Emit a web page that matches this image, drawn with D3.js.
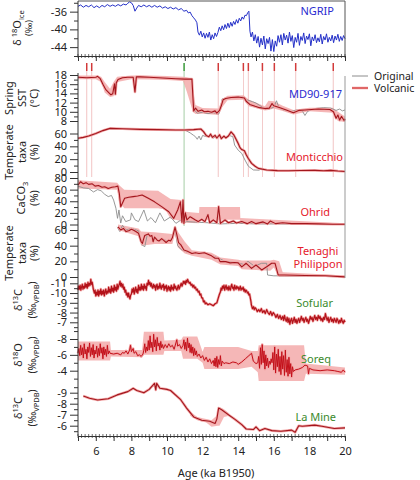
<!DOCTYPE html>
<html>
<head>
<meta charset="utf-8">
<script src="https://cdn.jsdelivr.net/npm/d3@7"></script>
<style>
  body { margin: 0; background: #fff; }
  text { font-family: "Noto Sans", sans-serif; }
</style>
</head>
<body>
<div id="chart"></div>
<script>
"use strict";

/* ===============================
   Data (age in ka BP, value) */

let ageTicks = [6, 8, 10, 12, 14, 16, 18, 20];

let volcanicAges = [5.49, 5.77, 12.88, 14.29, 14.57, 15.36, 16.03, 17.23, 19.34];
let greenAges = [10.96];

let ngrip = [
  [5.0,-34.8],[5.15,-34.5],[5.3,-35.0],[5.45,-34.6],[5.6,-34.9],[5.75,-34.5],[5.9,-35.1],[6.05,-34.7],
  [6.2,-35.1],[6.35,-34.6],[6.5,-34.9],[6.65,-34.4],[6.8,-34.8],[6.95,-34.5],[7.1,-34.8],[7.25,-34.4],
  [7.4,-34.7],[7.55,-34.3],[7.7,-34.5],[7.8,-34.1],[7.9,-33.8],[8.0,-34.0],[8.1,-34.6],[8.2,-35.9],
  [8.3,-35.2],[8.4,-34.6],[8.55,-34.9],[8.7,-34.5],[8.85,-34.9],[9.0,-34.6],[9.15,-35.0],[9.3,-34.6],
  [9.45,-35.0],[9.6,-34.7],[9.75,-35.2],[9.9,-34.9],[10.05,-35.3],[10.2,-35.0],[10.35,-35.4],[10.5,-35.1],
  [10.65,-35.6],[10.8,-35.3],[10.95,-35.9],[11.1,-35.7],[11.2,-36.3],[11.3,-36.1],[11.4,-36.9],[11.5,-37.4],
  [11.6,-37.9],[11.68,-38.5],[11.74,-40.6],[11.82,-41.3],[11.9,-40.4],[11.98,-41.7],[12.06,-40.8],[12.14,-42.0],
  [12.22,-40.9],[12.3,-41.8],[12.38,-40.6],[12.46,-42.4],[12.54,-41.2],[12.62,-42.1],[12.7,-40.8],[12.78,-41.6],
  [12.86,-40.7],[12.94,-39.5],[13.02,-40.3],[13.1,-39.2],[13.18,-40.1],[13.26,-38.9],[13.34,-39.8],[13.42,-38.6],
  [13.5,-39.6],[13.58,-38.4],[13.66,-39.3],[13.74,-38.2],[13.82,-38.9],[13.9,-37.8],[13.98,-38.6],[14.06,-37.5],
  [14.14,-38.1],[14.22,-37.2],[14.3,-37.7],[14.38,-36.8],[14.46,-36.9],[14.54,-36.2],[14.6,-35.9],[14.66,-40.4],
  [14.72,-41.7],[14.8,-40.6],[14.88,-42.6],[14.96,-41.2],[15.04,-43.1],[15.12,-41.6],[15.2,-44.0],[15.28,-42.0],
  [15.36,-43.5],[15.44,-41.5],[15.52,-44.4],[15.6,-42.1],[15.68,-43.2],[15.76,-41.8],[15.84,-44.9],[15.92,-42.3],
  [16.0,-45.0],[16.08,-42.6],[16.16,-43.8],[16.24,-41.4],[16.32,-42.9],[16.4,-41.2],[16.48,-43.5],[16.56,-40.9],
  [16.64,-42.4],[16.72,-41.3],[16.8,-43.1],[16.88,-40.6],[16.96,-42.7],[17.04,-41.4],[17.12,-44.1],[17.2,-41.8],
  [17.28,-42.9],[17.36,-40.9],[17.44,-43.6],[17.52,-41.6],[17.6,-42.5],[17.68,-40.8],[17.76,-43.2],[17.84,-41.5],
  [17.92,-42.3],[18.0,-41.0],[18.08,-43.7],[18.16,-41.7],[18.24,-42.6],[18.32,-41.2],[18.4,-43.0],[18.48,-41.9],
  [18.56,-42.8],[18.64,-41.1],[18.72,-43.3],[18.8,-41.6],[18.88,-42.4],[18.96,-41.0],[19.04,-42.9],[19.12,-41.8],
  [19.2,-42.6],[19.28,-41.3],[19.36,-43.0],[19.44,-41.5],[19.52,-42.4],[19.6,-41.1],[19.68,-42.7],[19.76,-41.6],
  [19.84,-42.5],[19.92,-41.4],[20.0,-42.1]
];

let sstVolcanic = [
  [5.0,17.5],[5.5,17.4],[6.0,17.5],[6.1,17.7],[6.25,17.2],[6.4,16.0],[6.55,14.9],[6.7,14.3],[6.85,13.7],
  [6.95,13.9],[7.05,16.1],[7.1,13.8],[7.15,16.3],[7.25,17.0],[7.5,17.4],[7.8,17.5],[8.1,17.5],[8.2,14.3],
  [8.28,17.6],[8.5,17.6],[9.0,17.5],[9.5,17.4],[10.0,17.3],[10.5,17.2],[11.0,17.1],[11.4,17.1],[11.5,10.2],
  [11.6,10.8],[11.75,10.1],[11.95,10.4],[12.1,10.0],[12.3,10.1],[12.5,9.9],[12.7,10.2],[12.8,9.7],[12.95,10.3],
  [13.05,11.3],[13.15,12.6],[13.3,12.9],[13.6,13.1],[14.0,13.2],[14.35,13.0],[14.45,12.3],[14.65,11.6],
  [14.95,11.2],[15.2,10.9],[15.5,10.7],[15.75,10.8],[15.9,11.8],[16.0,11.3],[16.35,10.9],[16.7,10.4],
  [17.1,9.8],[17.4,10.3],[17.75,10.4],[18.5,10.6],[19.15,10.5],[19.35,10.0],[19.5,8.6],[19.6,9.3],
  [19.7,8.2],[19.8,9.0],[19.95,8.1],[20.0,8.5]
];
let sstOriginal = [
  [11.4,17.1],[11.5,12.0],[11.55,10.4],[11.7,9.7],[12.0,9.9],[12.3,9.6],[12.6,9.8],[12.9,9.5],[13.0,10.5],
  [13.1,12.8],[13.4,13.0],[13.9,13.2],[14.2,13.3],[14.5,12.6],[14.8,12.2],[15.0,11.9],[15.2,11.4],[15.4,10.9],
  [15.7,10.6],[16.0,11.0],[16.15,12.4],[16.3,10.8],[16.6,10.3],[17.0,10.1],[17.3,10.4],[17.6,10.2],[17.75,9.2],
  [17.9,10.1],[18.3,10.7],[18.8,10.9],[19.2,10.8],[19.5,10.3],[19.7,10.6],[19.85,10.2],[20.0,10.4]
];
let sstBand = [
  [5.0,17.1,17.9],[6.0,17.1,17.9],[6.3,16.5,17.6],[6.5,14.2,16.5],[6.8,13.2,15.0],[7.0,13.4,16.5],
  [7.2,16.5,17.6],[8.0,17.1,17.9],[9.0,17.0,17.9],[10.0,16.9,17.8],[10.9,16.7,17.6],[11.1,14.5,17.5],
  [11.3,12.0,17.3],[11.45,10.0,15.0],[11.6,9.5,11.5],[12.0,9.6,10.8],[12.9,9.3,10.7],[13.1,11.0,12.8],
  [13.4,12.5,13.5],[14.3,12.6,13.6],[14.6,11.2,12.6],[15.5,10.3,11.2],[15.7,10.4,12.4],[16.0,10.7,12.3],
  [16.5,10.2,11.3],[17.1,9.4,10.4],[18.0,10.1,10.9],[19.3,9.8,10.9],[19.6,8.0,10.0],[20.0,7.8,9.0]
];

let monticchioVolcanic = [
  [5.0,52.5],[5.3,54],[5.6,56],[6.0,60],[6.4,64.5],[6.8,68],[7.5,67.5],[8.5,66.5],[9.5,66],[10.5,65.5],
  [11.0,65.4],[11.5,66],[11.9,67],[12.05,63],[12.2,57],[12.35,55],[12.45,59],[12.55,54],[12.7,57],[12.8,53],
  [12.95,58],[13.05,52],[13.2,56],[13.3,53],[13.45,56],[13.6,62.5],[13.75,58],[13.9,50],[14.0,44.5],[14.1,38],
  [14.2,35],[14.35,33],[14.45,27],[14.57,21],[14.75,13.5],[14.95,9],[15.13,5.7],[15.6,3],[16.2,2.2],[16.8,2],
  [17.5,2.3],[18.3,2.5],[18.8,2.0],[19.2,2.6],[19.6,1.5],[20.0,0.8]
];
let monticchioOriginal = [
  [11.0,65.4],[11.3,61],[11.5,57],[11.6,55],[11.7,51],[11.8,56],[11.9,50],[12.0,57],[12.2,55],[12.4,57],
  [12.6,53],[12.9,56],[13.2,54],[13.5,57],[13.7,55],[13.8,42],[14.0,34],[14.2,29],[14.38,18.7],[14.57,9],
  [14.85,3.2],[15.2,2.8]
];

let ohridVolcanic = [
  [5.0,68],[5.15,73.6],[5.3,70],[5.45,72],[5.6,69],[5.8,70],[5.96,66],[6.15,67],[6.35,64],[6.5,65],[6.7,62],
  [6.9,64],[7.1,65],[7.24,66],[7.32,53.7],[7.4,30.7],[7.5,37],[7.62,45],[7.85,47],[8.1,48],[8.35,49],[8.6,50.8],
  [8.95,45],[9.3,39],[9.7,30.7],[10.1,22],[10.38,10.6],[10.6,25],[10.75,39],[10.84,4],[10.9,42],[10.95,2],
  [11.03,20],[11.12,8],[11.3,13.4],[11.6,7.7],[11.75,5],[11.95,9],[12.13,5],[12.3,17],[12.4,3],[12.6,8],
  [12.8,3],[12.9,30.7],[13.0,2],[13.26,8],[13.45,3],[13.73,6],[13.9,2.5],[14.2,5],[14.5,1.5],[14.75,5],
  [15.0,1.5],[15.4,4.5],[15.65,1],[15.8,6],[16.1,1.5],[16.5,3],[17.0,1.5],[17.8,1.5],[18.5,1],[19.3,0.5],[20.0,0.5]
];
let ohridOriginal = [
  [5.0,66],[5.3,63],[5.6,62],[5.87,56],[6.1,60],[6.3,58],[6.5,52],[6.7,48],[6.88,50],[7.0,42],[7.13,28],
  [7.22,10.6],[7.3,25],[7.4,2.5],[7.5,15],[7.68,5],[7.95,8],[8.0,20],[8.2,8],[8.4,5],[8.7,25],[8.9,6],[9.1,12],
  [9.35,3],[9.6,20],[9.85,6],[10.2,13],[10.5,2],[10.75,7],[10.95,2.5],[11.1,5],[11.6,4],[12.3,3],[13.0,1],
  [14.0,2],[15.0,1],[16.0,1],[18.0,0.5],[20.0,0.3]
];
let ohridBand = [
  [5.0,62,76],[7.2,60,72],[7.3,40,68],[7.6,28,60],[9.5,28,58],[9.9,26,50],[10.2,10,44],[10.8,6,42],
  [11.0,3,22],[11.8,2,20],[11.82,8,30],[14.1,8,30],[14.12,1,11],[16.0,0.5,8],[18.0,0,5],[20.0,0,2]
];

let tenaghiVolcanic = [
  [7.25,64],[7.4,60],[7.55,62],[7.7,58],[7.85,59],[8.0,61],[8.1,60],[8.25,58],[8.4,55.8],[8.55,45],[8.62,43],
  [8.68,48],[8.75,53],[8.95,55],[9.05,52],[9.15,53],[9.22,45],[9.3,51],[9.45,47],[9.55,46],[9.7,49],[9.8,47],
  [9.95,44],[10.1,47],[10.2,46],[10.3,50],[10.38,57],[10.45,63.5],[10.55,54],[10.65,44],[10.78,41],[10.95,34.5],
  [11.15,33],[11.4,30],[11.6,31],[11.8,30],[12.1,31],[12.3,29],[12.5,27],[12.7,24],[12.9,24],[12.98,19.6],
  [13.3,19.6],[13.55,18],[13.8,18.5],[14.0,18],[14.2,13],[14.45,17.5],[14.75,11],[15.0,15.3],[15.32,9],
  [15.6,13],[15.88,17.5],[16.07,17.5],[16.25,2.5],[16.6,2.5],[17.75,2],[18.9,1.5],[20.0,0.2]
];
let tenaghiOriginal = [
  [7.2,64],[7.35,58],[7.5,66],[7.7,60],[8.0,62],[8.4,59],[8.6,41],[8.75,38.7],[8.9,55],[9.2,50],[9.5,46],
  [9.8,48],[10.1,45],[10.35,52],[10.45,60],[10.6,40],[10.8,35],[11.1,32],[11.5,30],[12.1,31],[12.9,24],
  [13.3,19.6],[14.0,18],[14.3,16],[14.55,20],[14.9,14],[15.32,17.5],[15.6,17.5],[15.65,2.5],[16.0,1.5],
  [16.6,1.5],[18.0,1],[20.0,0.2]
];
let tenaghiBand = [
  [7.25,60,67],[8.4,52,62],[8.55,40,58],[9.3,42,57],[10.3,42,55],[10.45,55,66],[10.6,38,58],[11.0,30,45],
  [11.4,27,34],[12.5,22,31],[13.0,16,25],[14.0,14,22],[14.2,10,21],[15.8,8,21],[16.0,12,22],[16.3,0,20],
  [16.5,0,6],[20.0,0,2]
];

let sofular = [
  [5.0,-10.3],[5.04,-10.7],[5.08,-10.4],[5.12,-10.8],[5.16,-10.3],[5.2,-10.6],[5.24,-10.9],[5.28,-10.4],
  [5.32,-10.7],[5.36,-10.5],[5.4,-11.0],[5.44,-10.6],[5.48,-10.9],[5.52,-10.5],[5.56,-11.1],[5.6,-10.7],
  [5.64,-11.0],[5.68,-10.8],[5.72,-11.4],[5.76,-10.9],[5.8,-11.1],[5.86,-10.4],[5.92,-10.0],[5.96,-10.3],
  [6.0,-9.7],[6.04,-10.1],[6.08,-9.8],[6.12,-10.3],[6.16,-9.7],[6.2,-10.2],[6.24,-9.9],[6.28,-10.4],
  [6.32,-9.8],[6.36,-10.2],[6.4,-9.9],[6.44,-10.3],[6.48,-9.7],[6.52,-10.1],[6.56,-10.4],[6.6,-9.9],
  [6.64,-10.2],[6.68,-10.0],[6.72,-10.6],[6.76,-10.1],[6.8,-10.4],[6.84,-10.0],[6.88,-10.7],[6.92,-10.2],
  [6.96,-10.5],[7.0,-10.1],[7.04,-10.8],[7.08,-10.3],[7.12,-10.6],[7.16,-10.2],[7.2,-10.9],[7.24,-10.4],
  [7.28,-10.7],[7.32,-10.9],[7.36,-11.2],[7.4,-10.7],[7.44,-11.0],[7.48,-10.6],[7.52,-10.9],[7.56,-10.4],
  [7.6,-10.6],[7.64,-10.1],[7.68,-10.3],[7.72,-9.8],[7.76,-10.0],[7.8,-9.6],[7.84,-10.0],[7.88,-9.6],
  [7.92,-9.4],[7.96,-9.8],[8.0,-9.9],[8.04,-10.4],[8.08,-10.1],[8.12,-10.5],[8.16,-9.9],[8.2,-10.3],
  [8.24,-10.6],[8.28,-10.1],[8.32,-10.4],[8.36,-10.0],[8.4,-10.8],[8.44,-10.3],[8.48,-10.6],[8.52,-10.3],
  [8.56,-10.9],[8.6,-10.4],[8.64,-10.7],[8.68,-10.3],[8.72,-10.9],[8.76,-10.5],[8.8,-10.7],[8.84,-10.3],
  [8.88,-11.0],[8.92,-10.8],[8.96,-11.3],[9.0,-10.9],[9.04,-11.1],[9.08,-10.7],[9.12,-11.0],[9.16,-10.6],
  [9.2,-10.5],[9.24,-10.9],[9.28,-10.6],[9.32,-10.8],[9.36,-10.3],[9.4,-10.7],[9.44,-10.9],[9.48,-10.4],
  [9.52,-10.7],[9.56,-10.5],[9.6,-11.0],[9.64,-10.6],[9.68,-10.4],[9.72,-10.8],[9.76,-10.6],[9.8,-10.9],
  [9.84,-10.3],[9.88,-10.7],[9.92,-10.5],[9.96,-10.8],[10.0,-10.2],[10.04,-10.5],[10.08,-10.7],[10.12,-10.3],
  [10.16,-10.6],[10.2,-10.2],[10.24,-10.8],[10.28,-10.4],[10.32,-10.6],[10.36,-10.3],[10.4,-10.9],[10.44,-10.5],
  [10.48,-10.7],[10.52,-10.4],[10.56,-10.3],[10.6,-10.6],[10.64,-10.8],[10.68,-10.4],[10.72,-10.6],
  [10.76,-10.8],[10.8,-11.0],[10.84,-10.7],[10.88,-10.9],[10.92,-11.2],[10.96,-11.0],[11.0,-11.2],
  [11.04,-10.9],[11.08,-11.3],[11.12,-11.1],[11.16,-11.4],[11.2,-11.2],[11.25,-11.0],[11.3,-11.1],
  [11.35,-10.8],[11.4,-10.9],[11.45,-10.6],[11.5,-10.8],[11.55,-10.5],[11.6,-10.6],[11.65,-10.3],
  [11.7,-10.4],[11.75,-10.1],[11.8,-10.2],[11.85,-9.8],[11.9,-9.9],[11.95,-9.5],[12.0,-9.5],[12.05,-9.1],
  [12.1,-9.2],[12.15,-8.9],[12.2,-9.0],[12.3,-8.8],[12.4,-8.9],[12.5,-8.8],[12.6,-8.7],[12.7,-8.9],[12.8,-9.0],
  [12.9,-9.6],[12.95,-9.9],[13.0,-10.1],[13.04,-10.5],[13.08,-10.3],[13.12,-10.7],[13.16,-10.5],[13.2,-10.8],
  [13.24,-10.3],[13.28,-10.6],[13.32,-10.8],[13.36,-10.4],[13.4,-10.6],[13.44,-10.3],[13.48,-10.7],
  [13.52,-10.4],[13.56,-10.3],[13.6,-10.7],[13.64,-10.9],[13.68,-10.5],[13.72,-10.6],[13.76,-10.3],
  [13.8,-10.8],[13.84,-10.5],[13.88,-10.4],[13.92,-10.7],[13.96,-10.5],[14.0,-10.6],[14.04,-10.3],
  [14.08,-10.5],[14.12,-10.7],[14.16,-10.3],[14.2,-10.5],[14.24,-10.4],[14.28,-10.6],[14.32,-10.2],
  [14.36,-10.4],[14.4,-10.1],[14.44,-10.3],[14.48,-10.2],[14.52,-10.0],[14.56,-10.1],[14.6,-9.8],[14.64,-9.9],
  [14.68,-9.5],[14.72,-9.1],[14.74,-8.8],[14.8,-8.4],[14.86,-8.6],[14.9,-8.3],[14.95,-8.5],[15.0,-8.4],
  [15.07,-8.1],[15.15,-8.3],[15.22,-8.1],[15.3,-8.4],[15.37,-8.0],[15.45,-8.2],[15.52,-7.9],[15.6,-8.3],
  [15.67,-8.0],[15.75,-7.8],[15.82,-8.1],[15.9,-7.7],[15.97,-8.0],[16.05,-7.8],[16.12,-7.5],[16.2,-7.8],
  [16.27,-7.4],[16.35,-7.7],[16.42,-7.3],[16.5,-7.6],[16.55,-7.2],[16.6,-7.7],[16.65,-7.3],[16.7,-7.1],
  [16.75,-7.5],[16.8,-7.0],[16.85,-7.4],[16.9,-6.8],[16.95,-7.2],[17.0,-7.4],[17.05,-6.9],[17.1,-7.2],
  [17.15,-7.5],[17.2,-7.0],[17.25,-7.3],[17.3,-6.9],[17.35,-7.2],[17.4,-7.4],[17.45,-7.0],[17.5,-7.3],
  [17.55,-7.6],[17.6,-7.2],[17.65,-7.4],[17.7,-7.0],[17.75,-7.3],[17.8,-7.5],[17.85,-7.1],[17.9,-7.3],
  [17.95,-6.9],[18.0,-7.2],[18.05,-7.6],[18.1,-7.3],[18.15,-7.5],[18.2,-7.1],[18.25,-7.4],[18.3,-7.7],
  [18.35,-7.3],[18.4,-7.5],[18.45,-7.2],[18.5,-7.7],[18.55,-7.4],[18.6,-7.6],[18.65,-7.2],[18.7,-7.4],
  [18.75,-7.1],[18.8,-7.5],[18.85,-7.3],[18.9,-7.9],[18.95,-7.5],[19.0,-7.2],[19.05,-7.5],[19.1,-7.0],
  [19.15,-7.3],[19.2,-7.5],[19.25,-7.1],[19.3,-7.3],[19.35,-7.0],[19.4,-7.4],[19.45,-7.2],[19.5,-7.0],
  [19.55,-7.4],[19.6,-7.2],[19.65,-6.9],[19.7,-7.2],[19.75,-7.0],[19.8,-7.4],[19.85,-7.1],[19.9,-6.9],
  [19.95,-7.2],[20.0,-7.0]
];

let soreq = [
  [5.0,-6.2],[5.05,-6.8],[5.1,-5.9],[5.15,-7.2],[5.2,-6.0],[5.25,-6.9],[5.3,-5.6],[5.35,-7.4],[5.4,-6.1],
  [5.45,-6.7],[5.5,-5.5],[5.55,-7.0],[5.6,-6.3],[5.65,-7.5],[5.7,-5.8],[5.75,-6.9],[5.8,-6.0],[5.85,-7.3],
  [5.9,-5.6],[5.95,-6.6],[6.0,-6.1],[6.05,-7.1],[6.1,-5.7],[6.15,-6.8],[6.2,-5.9],[6.25,-7.4],[6.3,-6.2],
  [6.35,-6.9],[6.4,-5.5],[6.45,-7.0],[6.5,-6.0],[6.55,-6.7],[6.6,-5.8],[6.65,-7.2],[6.7,-6.1],[6.75,-6.5],
  [6.8,-6.2],[7.0,-6.1],[7.2,-6.2],[7.4,-6.0],[7.5,-6.3],[7.6,-6.2],[7.7,-6.5],[7.8,-6.1],[7.9,-6.6],
  [7.95,-7.2],[8.0,-6.4],[8.1,-6.8],[8.15,-6.2],[8.25,-6.4],[8.35,-5.9],[8.45,-6.0],[8.55,-5.8],[8.65,-6.1],
  [8.7,-6.6],[8.75,-7.4],[8.8,-6.3],[8.85,-7.0],[8.9,-6.5],[8.95,-7.8],[9.0,-6.6],[9.05,-8.4],[9.1,-6.9],
  [9.15,-7.6],[9.2,-6.4],[9.25,-8.6],[9.3,-7.0],[9.35,-7.9],[9.4,-6.5],[9.45,-8.2],[9.5,-7.1],[9.55,-7.5],
  [9.6,-6.6],[9.65,-7.7],[9.7,-6.9],[9.75,-7.3],[9.8,-6.8],[9.9,-7.3],[10.0,-6.9],[10.1,-7.4],[10.2,-7.0],
  [10.3,-7.2],[10.4,-6.7],[10.5,-7.5],[10.55,-7.9],[10.6,-7.1],[10.7,-7.3],[10.8,-6.8],[10.9,-7.2],
  [10.95,-7.9],[11.0,-6.7],[11.05,-7.6],[11.1,-6.5],[11.15,-8.1],[11.2,-6.9],[11.25,-7.5],[11.3,-6.3],
  [11.35,-7.3],[11.4,-6.2],[11.45,-7.0],[11.5,-5.9],[11.55,-6.8],[11.6,-6.0],[11.65,-6.5],[11.7,-5.8],
  [11.8,-6.1],[11.9,-5.6],[12.0,-5.9],[12.1,-5.3],[12.2,-5.7],[12.3,-5.1],[12.4,-5.5],[12.5,-4.9],[12.6,-5.3],
  [12.65,-4.6],[12.7,-5.6],[12.75,-4.5],[12.8,-5.8],[12.85,-4.4],[12.9,-5.4],[12.95,-4.8],[13.0,-5.9],
  [13.05,-4.6],[13.1,-5.2],[13.2,-4.9],[13.3,-5.0],[13.5,-4.9],[13.7,-5.1],[13.9,-5.0],[14.0,-4.8],
  [14.2,-5.1],[14.4,-5.5],[14.6,-5.9],[14.75,-6.2],[14.85,-5.2],[15.0,-4.9],[15.1,-5.0],[15.15,-5.8],
  [15.2,-4.3],[15.25,-6.9],[15.3,-4.8],[15.35,-7.3],[15.4,-5.0],[15.45,-6.5],[15.5,-4.2],[15.55,-6.0],
  [15.6,-4.6],[15.65,-5.6],[15.7,-4.4],[15.75,-5.2],[15.8,-4.8],[15.85,-5.5],[15.9,-5.0],[15.95,-6.3],
  [16.0,-4.1],[16.05,-7.0],[16.1,-3.7],[16.15,-6.1],[16.2,-4.5],[16.25,-6.7],[16.3,-3.9],[16.35,-5.8],
  [16.4,-3.5],[16.45,-6.4],[16.5,-4.2],[16.55,-5.9],[16.6,-3.4],[16.65,-6.6],[16.7,-3.8],[16.75,-5.4],
  [16.8,-3.3],[16.85,-5.7],[16.9,-3.6],[16.95,-4.9],[17.0,-3.2],[17.05,-4.5],[17.1,-3.9],[17.2,-4.1],
  [17.4,-4.2],[17.6,-4.4],[17.75,-4.7],[17.9,-4.6],[17.95,-3.6],[18.0,-4.3],[18.2,-4.1],[18.6,-4.0],
  [19.0,-4.1],[19.4,-4.0],[19.6,-3.9],[19.8,-3.8],[19.9,-4.1],[20.0,-3.8]
];
let soreqBand = [
  [5.0,-7.7,-5.3],[6.8,-7.7,-5.3],[6.85,-6.6,-5.8],[8.6,-6.6,-5.7],[8.7,-8.9,-6.0],[9.8,-8.9,-6.0],
  [9.85,-7.8,-6.5],[10.8,-7.9,-6.5],[10.9,-8.3,-5.5],[11.7,-8.3,-5.5],[12.0,-6.4,-5.0],[12.1,-7.0,-4.2],
  [14.0,-7.0,-4.2],[14.75,-6.5,-4.5],[15.1,-6.5,-3.8],[15.15,-7.2,-2.7],[17.7,-7.2,-2.7],[17.8,-4.9,-3.6],
  [20.0,-4.4,-3.5]
];

let laMine = [
  [5.3,-8.7],[5.65,-8.5],[6.1,-8.33],[6.7,-8.45],[7.2,-8.8],[7.8,-9.1],[8.1,-9.4],[8.3,-9.2],[8.7,-9.0],
  [9.0,-9.3],[9.3,-9.85],[9.37,-9.25],[9.42,-9.85],[9.6,-9.4],[10.0,-9.3],[10.2,-9.2],[10.75,-8.4],
  [11.1,-7.6],[11.5,-6.8],[11.95,-6.5],[12.4,-6.4],[12.7,-6.2],[12.8,-6.6],[12.9,-7.6],[13.07,-7.45],
  [13.45,-7.0],[13.8,-6.6],[14.2,-6.1],[14.45,-5.7],[14.85,-5.65],[15.0,-5.9],[15.2,-5.55],[15.5,-5.75],
  [15.9,-5.55],[16.4,-5.5],[17.0,-5.6],[17.2,-5.4],[17.4,-6.0],[17.6,-5.95],[18.3,-6.05],[18.7,-5.95],
  [19.4,-5.75],[20.0,-5.8]
];
let laMineBand = [
  [11.3,-7.3,-6.9],[11.7,-6.8,-6.5],[12.2,-6.6,-6.3],[12.5,-6.5,-5.9],[12.85,-7.0,-6.0],[12.95,-7.7,-6.0],
  [13.2,-7.5,-6.8],[13.5,-7.1,-6.9]
];

/* ===============================
   Canvas */
let svgWidth = 420;
let svgHeight = 480;

let svg = d3.select("#chart")
  .append("svg")
  .attr("width", svgWidth)
  .attr("height", svgHeight);

let plotLeft = 78;
let plotRight = 345;

let x = d3.scaleLinear().domain([5, 20]).range([plotLeft, plotRight]);

let colRed = "#a3161d";
let colPink = "#f3aaaa";
let colGray = "#8c8c8c";
let colBlue = "#2430c8";
let labRed = "#e5202c";
let labGreen = "#3b8a2c";
let labBlue = "#2a2ad0";

/* y scales, one per panel */
let yNgrip = d3.scaleLinear().domain([-46, -33.6]).range([56, 1]);
let ySst = d3.scaleLinear().domain([8, 18]).range([121, 75]);
let yMont = d3.scaleLinear().domain([0, 60]).range([172, 133.5]);
let yOhrid = d3.scaleLinear().domain([0, 80]).range([224.5, 178]);
let yTen = d3.scaleLinear().domain([0, 60]).range([277, 230]);
let ySof = d3.scaleLinear().domain([-11, -7]).range([283.3, 322.3]);
let ySor = d3.scaleLinear().domain([-8, -4]).range([339, 370.7]);
let yLam = d3.scaleLinear().domain([-9, -6]).range([392.7, 425.7]);

/* ===============================
   Helpers */
function lineOf(y) {
  return d3.line().x(function (d) { return x(d[0]); }).y(function (d) { return y(d[1]); });
}
function areaOf(y) {
  return d3.area()
    .x(function (d) { return x(d[0]); })
    .y0(function (d) { return y(d[1]); })
    .y1(function (d) { return y(d[2]); });
}

function drawBand(data, y) {
  svg.append("path").datum(data)
    .attr("d", areaOf(y))
    .attr("fill", colPink)
    .attr("opacity", 0.85);
}
function drawOriginal(data, y) {
  svg.append("path").datum(data)
    .attr("d", lineOf(y))
    .attr("fill", "none")
    .attr("stroke", colGray)
    .attr("stroke-width", 0.9);
}
function drawVolcanic(data, y, color, w) {
  svg.append("path").datum(data)
    .attr("d", lineOf(y))
    .attr("fill", "none")
    .attr("stroke", colPink)
    .attr("stroke-width", 2.6)
    .attr("stroke-linejoin", "round");
  svg.append("path").datum(data)
    .attr("d", lineOf(y))
    .attr("fill", "none")
    .attr("stroke", color || colRed)
    .attr("stroke-width", w || 1.1)
    .attr("stroke-linejoin", "round");
}

function leftAxis(y, major, minor) {
  let g = svg.append("g").attr("transform", "translate(" + plotLeft + ",0)");
  g.call(d3.axisLeft(y).tickValues(minor).tickSize(4).tickFormat(""));
  g.select(".domain").remove();
  let g2 = svg.append("g").attr("transform", "translate(" + plotLeft + ",0)");
  g2.call(d3.axisLeft(y).tickValues(major).tickSize(8).tickPadding(3)
    .tickFormat(function (d) { return String(d); }));
  g2.select(".domain").remove();
  g.selectAll("line").attr("stroke", "#333");
  g2.selectAll("line").attr("stroke", "#333");
  g2.selectAll("text").attr("font-size", 11).attr("fill", "#222")
    .style("font-family", "'Noto Sans', sans-serif");
}

function ageAxis(yPos, withLabels) {
  let minor = d3.range(5, 20.001, 0.2);
  svg.append("g").selectAll("line")
    .data(minor)
    .join("line")
    .attr("x1", function (d) { return x(d); })
    .attr("x2", function (d) { return x(d); })
    .attr("y1", yPos - 2)
    .attr("y2", yPos + 2)
    .attr("stroke", "#333")
    .attr("stroke-width", 0.7);
  let g = svg.append("g").attr("transform", "translate(0," + yPos + ")");
  g.call(d3.axisBottom(x).tickValues(d3.range(5, 20.001, 1)).tickSize(5).tickPadding(6)
    .tickFormat(function (d) { return (withLabels && ageTicks.indexOf(d) >= 0) ? String(d) : ""; }));
  g.select(".domain").attr("stroke", "#333");
  g.selectAll("line").attr("stroke", "#333");
  g.selectAll("text").attr("font-size", 11).attr("fill", "#222")
    .style("font-family", "'Noto Sans', sans-serif");
}

/* rotated multi-line label; parts: [text, "sup"|"sub"|undefined] */
function sideLabel(lines, cy) {
  lines.forEach(function (ln) {
    let t = svg.append("text")
      .attr("transform", "translate(" + ln.x + "," + cy + ") rotate(-90)")
      .attr("text-anchor", "middle")
      .attr("font-size", ln.size || 11)
      .attr("fill", "#222");
    let shift = 0;
    ln.parts.forEach(function (p) {
      let target = p[1] === "sup" ? -4 : (p[1] === "sub" ? 3 : 0);
      let ts = t.append("tspan").attr("dy", target - shift).text(p[0]);
      if (p[1]) { ts.attr("font-size", 7.5); }
      shift = target;
    });
  });
}

function panelName(txt, xr, yb, color) {
  svg.append("text")
    .attr("x", xr).attr("y", yb)
    .attr("text-anchor", "end")
    .attr("font-size", 11)
    .attr("fill", color)
    .text(txt);
}

/* ===============================
   NGRIP panel */
svg.append("path").datum(ngrip)
  .attr("d", lineOf(yNgrip))
  .attr("fill", "none")
  .attr("stroke", colBlue)
  .attr("stroke-width", 1);

svg.append("line").attr("x1", plotLeft).attr("x2", plotRight).attr("y1", 1).attr("y2", 1)
  .attr("stroke", "#555");
svg.append("line").attr("x1", plotRight).attr("x2", plotRight).attr("y1", 1).attr("y2", 56)
  .attr("stroke", "#555");
svg.append("line").attr("x1", plotLeft).attr("x2", plotLeft).attr("y1", 1).attr("y2", 56)
  .attr("stroke", "#333");
leftAxis(yNgrip, [-36, -40, -44], [-34, -38, -42, -46]);
ageAxis(56, false);
panelName("NGRIP", 334, 15, labBlue);

/* ===============================
   Volcanic markers */
svg.append("g").selectAll("line")
  .data(volcanicAges)
  .join("line")
  .attr("x1", function (d) { return x(d); })
  .attr("x2", function (d) { return x(d); })
  .attr("y1", 71).attr("y2", 177)
  .attr("stroke", "#e48080")
  .attr("stroke-width", 0.7)
  .attr("opacity", 0.65);
svg.append("g").selectAll("line")
  .data(volcanicAges)
  .join("line")
  .attr("x1", function (d) { return x(d); })
  .attr("x2", function (d) { return x(d); })
  .attr("y1", 63).attr("y2", 71)
  .attr("stroke", "#d23a3a")
  .attr("stroke-width", 1.5);
svg.append("g").selectAll("line")
  .data(greenAges)
  .join("line")
  .attr("x1", function (d) { return x(d); })
  .attr("x2", function (d) { return x(d); })
  .attr("y1", 71).attr("y2", 226)
  .attr("stroke", "#7fb87f")
  .attr("stroke-width", 0.7);
svg.append("g").selectAll("line")
  .data(greenAges)
  .join("line")
  .attr("x1", function (d) { return x(d); })
  .attr("x2", function (d) { return x(d); })
  .attr("y1", 63).attr("y2", 71)
  .attr("stroke", "#3a9a3a")
  .attr("stroke-width", 1.5);

/* ===============================
   Proxy panels */
drawBand(sstBand, ySst);
drawOriginal(sstOriginal, ySst);
drawVolcanic(sstVolcanic, ySst);

drawOriginal(monticchioOriginal, yMont);
drawVolcanic(monticchioVolcanic, yMont);

drawBand(ohridBand, yOhrid);
drawOriginal(ohridOriginal, yOhrid);
drawVolcanic(ohridVolcanic, yOhrid);

drawBand(tenaghiBand, yTen);
drawOriginal(tenaghiOriginal, yTen);
drawVolcanic(tenaghiVolcanic, yTen);

drawVolcanic(sofular, ySof, "#b3121a", 1.2);

drawBand(soreqBand, ySor);
drawVolcanic(soreq, ySor, "#c4101a", 1.0);

drawBand(laMineBand, yLam);
drawVolcanic(laMine, yLam);

/* frame lines */
svg.append("line").attr("x1", plotLeft).attr("x2", plotLeft).attr("y1", 73).attr("y2", 436)
  .attr("stroke", "#333");
svg.append("line").attr("x1", plotRight).attr("x2", plotRight).attr("y1", 76).attr("y2", 278)
  .attr("stroke", "#999");

leftAxis(ySst, [8, 10, 12, 14, 16, 18], [9, 11, 13, 15, 17]);
leftAxis(yMont, [0, 20, 40, 60], [10, 30, 50]);
leftAxis(yOhrid, [0, 20, 40, 60, 80], [10, 30, 50, 70]);
leftAxis(yTen, [0, 20, 40, 60], [10, 30, 50]);
leftAxis(ySof, [-11, -10, -9, -8, -7], [-10.5, -9.5, -8.5, -7.5, -6.5]);
leftAxis(ySor, [-8, -6, -4], [-9, -7, -5, -3]);
leftAxis(yLam, [-9, -8, -7, -6], [-9.5, -8.5, -7.5, -6.5, -5.5]);
ageAxis(436, true);

/* panel names */
panelName("MD90-917", 342, 98, labBlue);
panelName("Monticchio", 343, 161, labRed);
panelName("Ohrid", 330, 216, labRed);
svg.append("text").attr("x", 318).attr("y", 255).attr("text-anchor", "middle")
  .attr("font-size", 11).attr("fill", labRed).text("Tenaghi");
svg.append("text").attr("x", 318).attr("y", 268).attr("text-anchor", "middle")
  .attr("font-size", 11).attr("fill", labRed).text("Philippon");
panelName("Sofular", 333, 307, labGreen);
panelName("Soreq", 331, 363, labGreen);
panelName("La Mine", 336, 421, labGreen);

/* y labels */
sideLabel([
  { x: 21, parts: [["δ"], [" 18", "sup"], ["O"], ["ice", "sub"]] },
  { x: 32, parts: [["(‰)"]], size: 9 }
], 28);
sideLabel([
  { x: 13, parts: [["Spring"]] },
  { x: 26, parts: [["SST"]] },
  { x: 38, parts: [["(°C)"]] }
], 98);
sideLabel([
  { x: 13, parts: [["Temperate"]] },
  { x: 26, parts: [["taxa"]] },
  { x: 38, parts: [["(%)"]] }
], 152);
sideLabel([
  { x: 25, parts: [["CaCO"], ["3", "sub"]] },
  { x: 38, parts: [["(%)"]] }
], 198);
sideLabel([
  { x: 13, parts: [["Temperate"]] },
  { x: 26, parts: [["taxa"]] },
  { x: 38, parts: [["(%)"]] }
], 253);
sideLabel([
  { x: 22, parts: [["δ"], ["13", "sup"], ["C"]] },
  { x: 36, parts: [["(‰"], ["VPDB", "sub"], [")"]], size: 10 }
], 300);
sideLabel([
  { x: 22, parts: [["δ"], ["18", "sup"], ["O"]] },
  { x: 36, parts: [["(‰"], ["VPDB", "sub"], [")"]], size: 10 }
], 355);
sideLabel([
  { x: 22, parts: [["δ"], ["13", "sup"], ["C"]] },
  { x: 36, parts: [["(‰"], ["VPDB", "sub"], [")"]], size: 10 }
], 408);

/* x title */
svg.append("text")
  .attr("x", 216).attr("y", 477)
  .attr("text-anchor", "middle")
  .attr("font-size", 11)
  .attr("fill", "#222")
  .text("Age (ka B1950)");

/* ===============================
   Legend */
let legendX = 352;
svg.append("line").attr("x1", legendX).attr("x2", legendX + 16).attr("y1", 76).attr("y2", 76)
  .attr("stroke", colGray).attr("stroke-width", 1);
svg.append("text").attr("x", legendX + 22).attr("y", 80).attr("font-size", 10.5).attr("fill", "#222")
  .text("Original");
svg.append("line").attr("x1", legendX).attr("x2", legendX + 16).attr("y1", 88).attr("y2", 88)
  .attr("stroke", colPink).attr("stroke-width", 2.6);
svg.append("line").attr("x1", legendX).attr("x2", legendX + 16).attr("y1", 88).attr("y2", 88)
  .attr("stroke", "#d03030").attr("stroke-width", 1.1);
svg.append("text").attr("x", legendX + 22).attr("y", 92).attr("font-size", 10.5).attr("fill", "#222")
  .text("Volcanic");
</script>
</body>
</html>
